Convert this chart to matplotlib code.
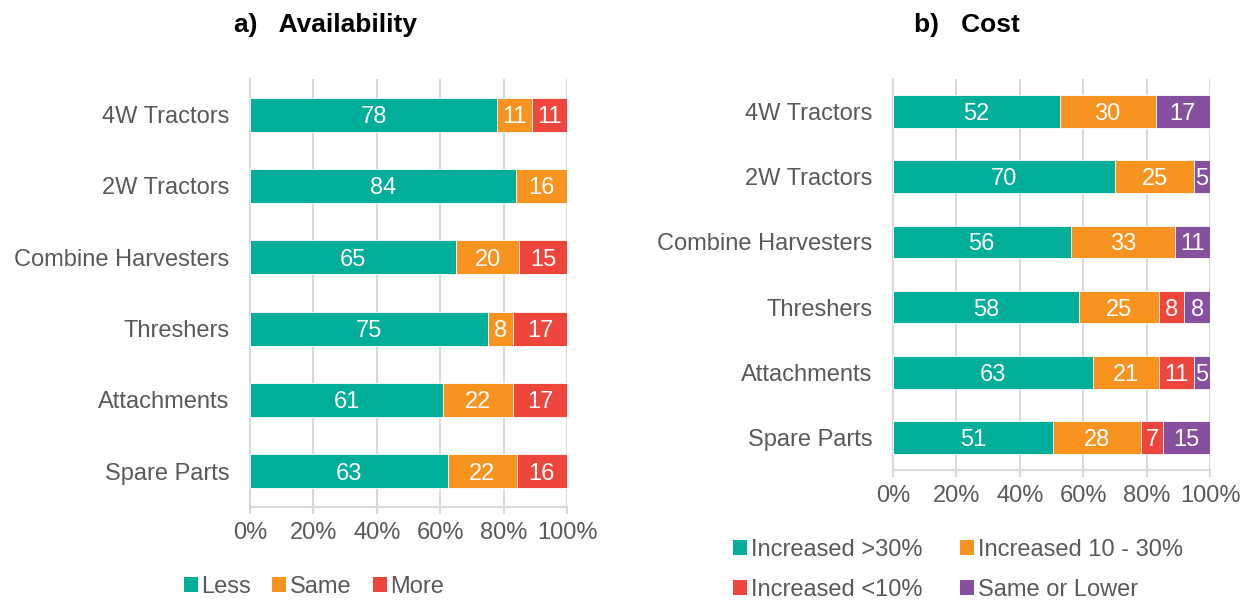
import matplotlib
matplotlib.use("Agg")
import matplotlib.pyplot as plt
import numpy as np
from matplotlib.patches import Patch

plt.rcParams['font.family'] = ['Liberation Sans', 'DejaVu Sans']

# ---- data ----
categories = ["4W Tractors", "2W Tractors", "Combine Harvesters",
              "Threshers", "Attachments", "Spare Parts"]

avail_series = ["Less", "Same", "More"]
avail_less = [78, 84, 65, 75, 61, 63]
avail_same = [11, 16, 20, 8, 22, 22]
avail_more = [11, 0, 15, 17, 17, 16]

cost_series = ["Increased >30%", "Increased 10 - 30%", "Increased <10%", "Same or Lower"]
cost_gt30 = [52, 70, 56, 58, 63, 51]
cost_10_30 = [30, 25, 33, 25, 21, 28]
cost_lt10 = [0, 0, 0, 8, 11, 7]
cost_same = [17, 5, 11, 8, 5, 15]

x_ticks = [0, 20, 40, 60, 80, 100]
x_ticklabels = ["0%", "20%", "40%", "60%", "80%", "100%"]

colors = ["#00AE9A", "#F7931E", "#EE463C", "#87509E"]
grey = "#595959"
gridc = "#D9D9D9"
FS = 17

fig = plt.figure(figsize=(12.41, 6.00), dpi=100)


def draw(ax, series_vals, bar_h):
    vals = np.array(series_vals, dtype=float)
    totals = vals.sum(axis=0)
    pct = vals / totals * 100
    y = np.arange(len(categories))
    left = np.zeros(len(categories))
    for i, row in enumerate(pct):
        ax.barh(y, row, left=left, height=bar_h, color=colors[i],
                edgecolor="white", linewidth=0.6, zorder=3)
        for j, v in enumerate(row):
            raw = vals[i][j]
            if raw > 0:
                ax.text(left[j] + v / 2, y[j], f"{int(raw)}", ha="center",
                        va="center_baseline", color="white", fontsize=FS, zorder=4)
        left += row
    ax.set_xlim(0, 100)
    ax.set_ylim(len(categories) - 0.5, -0.5)
    ax.set_yticks(y)
    ax.set_yticklabels(categories, fontsize=FS, color=grey)
    ax.set_xticks(x_ticks)
    ax.set_xticklabels(x_ticklabels, fontsize=FS, color=grey)
    ax.tick_params(axis="y", length=0, pad=15)
    ax.tick_params(axis="x", length=5, width=1.5, color=gridc, direction="out", pad=6)
    ax.grid(axis="x", color=gridc, linewidth=1.5, zorder=0)
    for s in ["top", "right"]:
        ax.spines[s].set_visible(False)
    for s in ["left", "bottom"]:
        ax.spines[s].set_color(gridc)
        ax.spines[s].set_linewidth(1.5)


ax1 = fig.add_axes([250 / 1241, 1 - 507 / 600, (567 - 250) / 1241, (507 - 79) / 600])
draw(ax1, [avail_less, avail_same, avail_more], 0.48)

ax2 = fig.add_axes([893 / 1241, 1 - 470 / 600, (1210 - 893) / 1241, (470 - 79) / 600])
draw(ax2, [cost_gt30, cost_10_30, cost_lt10, cost_same], 0.5)

fig.text(325 / 1241, 1 - 25 / 600, "a)   Availability", ha="center", va="center",
         fontsize=19, fontweight="bold", color="black")
fig.text(967 / 1241, 1 - 25 / 600, "b)   Cost", ha="center", va="center",
         fontsize=19, fontweight="bold", color="black")

h1 = [Patch(facecolor=colors[i], label=avail_series[i]) for i in range(3)]
fig.legend(handles=h1, loc="center", bbox_to_anchor=(314 / 1241, 1 - 587 / 600),
           ncol=3, frameon=False, fontsize=FS, labelcolor=grey,
           handlelength=0.6, handleheight=0.6, handletextpad=0.15, columnspacing=0.9)

# order so that matplotlib's column-wise fill reads row-wise
order = [0, 2, 1, 3]
h2 = [Patch(facecolor=colors[i], label=cost_series[i]) for i in order]
fig.legend(handles=h2, loc="center", bbox_to_anchor=(958 / 1241, 1 - 570 / 600),
           ncol=2, frameon=False, fontsize=FS, labelcolor=grey,
           handlelength=0.6, handleheight=0.6, handletextpad=0.15, columnspacing=1.6,
           labelspacing=0.75)

fig.savefig("out.png", dpi=100)
